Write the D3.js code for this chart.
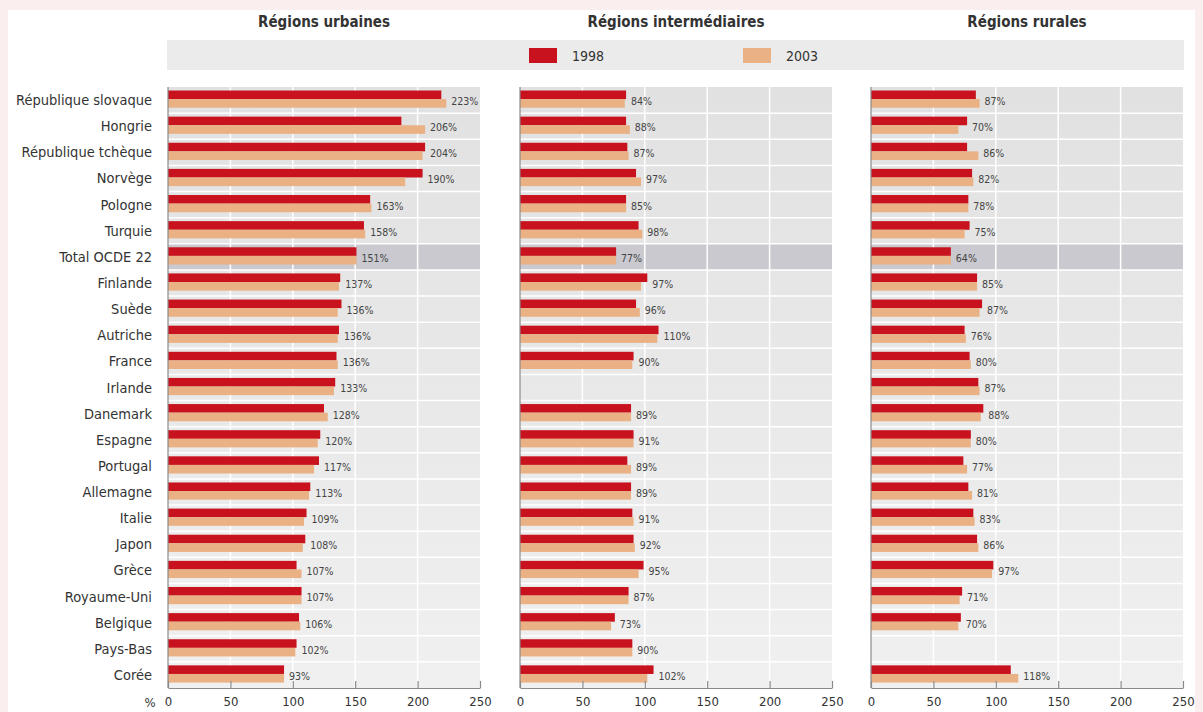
<!DOCTYPE html>
<html>
<head>
<meta charset="utf-8">
<script src="https://cdn.jsdelivr.net/npm/d3@7"></script>
<style>
  html, body { margin: 0; padding: 0; background: #fbeeee; }
  svg { display: block; }
  text { font-family: "Liberation Sans Narrow", "DejaVu Sans Condensed", "Roboto", sans-serif; }
</style>
</head>
<body>
<svg id="viz" width="1203" height="712"></svg>
<script>
const width = 1203;
const height = 712;
const svg = d3.select("#viz");

// données
const categories = ["République slovaque", "Hongrie", "République tchèque", "Norvège", "Pologne", "Turquie",
  "Total OCDE 22", "Finlande", "Suède", "Autriche", "France", "Irlande", "Danemark", "Espagne", "Portugal",
  "Allemagne", "Italie", "Japon", "Grèce", "Royaume-Uni", "Belgique", "Pays-Bas", "Corée"];
const urbain1998 = [219, 187, 206, 204, 162, 157, 151, 138, 139, 137, 135, 134, 125, 122, 121, 114, 111, 110, 103, 107, 105, 103, 93];
const urbain2003 = [223, 206, 204, 190, 163, 158, 151, 137, 136, 136, 136, 133, 128, 120, 117, 113, 109, 108, 107, 107, 106, 102, 93];
const inter1998 = [85, 85, 86, 93, 85, 95, 77, 102, 93, 111, 91, null, 89, 91, 86, 89, 90, 91, 99, 87, 76, 90, 107];
const inter2003 = [84, 88, 87, 97, 85, 98, 77, 97, 96, 110, 90, null, 89, 91, 89, 89, 91, 92, 95, 87, 73, 90, 102];
const rural1998 = [84, 77, 77, 81, 78, 79, 64, 85, 89, 75, 79, 86, 90, 80, 74, 78, 82, 85, 98, 73, 72, null, 112];
const rural2003 = [87, 70, 86, 82, 78, 75, 64, 85, 87, 76, 80, 87, 88, 80, 77, 81, 83, 86, 97, 71, 70, null, 118];
const panelTitles = ["Régions urbaines", "Régions intermédiaires", "Régions rurales"];
const seriesNames = ["1998", "2003"];
const tickValues = [0, 50, 100, 150, 200, 250];

const colors = { "1998": "#c8121d", "2003": "#e9b184" };
const totalRow = "Total OCDE 22";

const panels = [
  { title: panelTitles[0], a: urbain1998, b: urbain2003, x0: 168 },
  { title: panelTitles[1], a: inter1998, b: inter2003, x0: 520 },
  { title: panelTitles[2], a: rural1998, b: rural2003, x0: 871 }
];
const panelW = 312;
const plotTop = 87, plotBottom = 688;

// fond blanc
svg.append("rect").attr("x", 8).attr("y", 10).attr("width", 1187).attr("height", height - 10).attr("fill", "#fff");

const defs = svg.append("defs");
const grad = defs.append("linearGradient").attr("id", "bg").attr("x1", 0).attr("y1", 0).attr("x2", 0).attr("y2", 1);
grad.append("stop").attr("offset", "0%").attr("stop-color", "#e1e1e1");
grad.append("stop").attr("offset", "100%").attr("stop-color", "#f0f0f0");

const y = d3.scaleBand().domain(categories).range([plotTop, plotBottom]).paddingInner(0);
const bh = 8.6;

// légende
svg.append("rect").attr("x", 167).attr("y", 40).attr("width", 1017).attr("height", 30).attr("fill", "#ebebeb");
const legX = [529, 743];
seriesNames.forEach((s, i) => {
  svg.append("rect").attr("x", legX[i]).attr("y", 48).attr("width", 28).attr("height", 15).attr("fill", colors[s]);
  svg.append("text").attr("x", legX[i] + 43).attr("y", 61).attr("font-size", 14).attr("fill", "#333").text(s);
});

// libellés pays
svg.selectAll(".cat")
  .data(categories)
  .enter().append("text")
  .attr("class", "cat")
  .attr("x", 152)
  .attr("y", d => y(d) + y.bandwidth() / 2 + 5)
  .attr("text-anchor", "end")
  .attr("font-size", 14.5)
  .attr("fill", "#333")
  .text(d => d);

svg.append("text").attr("x", 150).attr("y", 707).attr("text-anchor", "middle")
  .attr("font-size", 13).attr("fill", "#333").text("%");

panels.forEach(p => {
  const x = d3.scaleLinear().domain([0, 250]).range([p.x0, p.x0 + panelW]);
  const g = svg.append("g");

  // titre
  g.append("text").attr("x", p.x0 + panelW / 2).attr("y", 27).attr("text-anchor", "middle")
    .attr("font-size", 15).attr("font-weight", "bold").attr("fill", "#333").text(p.title);

  // fond gris + bande Total
  g.append("rect").attr("x", x(0)).attr("y", plotTop).attr("width", panelW).attr("height", plotBottom - plotTop).attr("fill", "url(#bg)");
  g.append("rect").attr("x", x(0)).attr("y", y(totalRow)).attr("width", panelW).attr("height", y.bandwidth()).attr("fill", "#c9c9cf");

  // grille
  g.selectAll(".vg").data(tickValues.slice(1, -1)).enter().append("line")
    .attr("x1", d => x(d)).attr("x2", d => x(d)).attr("y1", plotTop).attr("y2", plotBottom)
    .attr("stroke", "#fff").attr("stroke-width", 1.5);
  g.selectAll(".hg").data(categories.slice(1)).enter().append("line")
    .attr("x1", x(0)).attr("x2", x(250)).attr("y1", d => y(d)).attr("y2", d => y(d))
    .attr("stroke", "#fff").attr("stroke-width", 1.5);

  const rows = categories.map((c, i) => ({ c, a: p.a[i], b: p.b[i] })).filter(d => d.a != null);

  g.selectAll(".r98").data(rows).enter().append("rect")
    .attr("x", x(0)).attr("y", d => y(d.c) + 3.5)
    .attr("width", d => x(d.a) - x(0)).attr("height", bh)
    .attr("fill", colors["1998"]);
  g.selectAll(".r03").data(rows).enter().append("rect")
    .attr("x", x(0)).attr("y", d => y(d.c) + 3.5 + bh)
    .attr("width", d => x(d.b) - x(0)).attr("height", bh)
    .attr("fill", colors["2003"]);

  g.selectAll(".val").data(rows).enter().append("text")
    .attr("x", d => x(Math.max(d.a, d.b)) + 5)
    .attr("y", d => y(d.c) + 18)
    .attr("font-size", 10.5).attr("fill", "#444")
    .text(d => d.b + "%");

  // axe vertical
  g.append("line").attr("x1", x(0)).attr("x2", x(0)).attr("y1", plotTop).attr("y2", plotBottom)
    .attr("stroke", "#8a8a8a").attr("stroke-width", 1.2);

  // axe horizontal
  const axis = d3.axisBottom(x).tickValues(tickValues).tickSizeInner(-7).tickSizeOuter(0).tickPadding(9);
  const ax = g.append("g").attr("transform", `translate(0,${plotBottom})`).call(axis);
  ax.select(".domain").attr("stroke", "#8a8a8a").attr("stroke-width", 1.2);
  ax.selectAll(".tick line").attr("stroke", "#8a8a8a").attr("stroke-width", 1.2);
  ax.selectAll(".tick text").attr("font-size", 13).attr("fill", "#333")
    .attr("font-family", "Liberation Sans Narrow, DejaVu Sans Condensed, sans-serif");
});
</script>
</body>
</html>
